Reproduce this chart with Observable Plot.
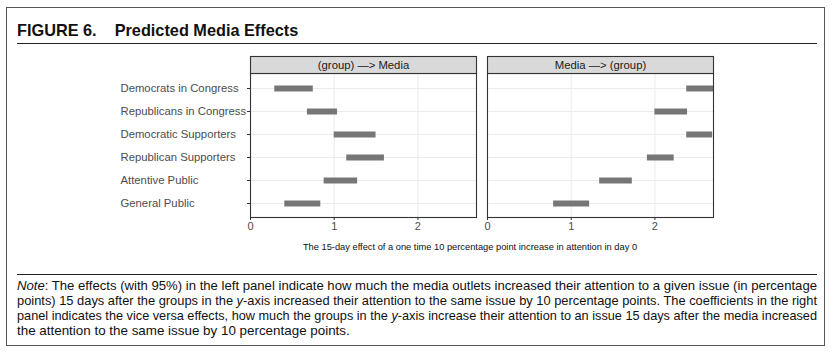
<!DOCTYPE html>
<html>
<head>
<meta charset="utf-8">
<script src="https://cdn.jsdelivr.net/npm/d3@7"></script>
<script src="https://cdn.jsdelivr.net/npm/@observablehq/plot@0.6"></script>
<style>
  html, body { margin: 0; padding: 0; background: #fff; width: 834px; height: 354px; overflow: hidden; }
  body { position: relative; font-family: "Liberation Sans", Arial, sans-serif; }
  #box { position: absolute; left: 6px; top: 7px; width: 819px; height: 339px; border: 1.5px solid #555; box-sizing: border-box; }
  #title { position: absolute; left: 17px; top: 21px; font-size: 16.3px; font-weight: bold; color: #111; white-space: nowrap; }
  #title span.b { margin-left: 18px; }
  .rule { position: absolute; left: 17px; width: 800px; height: 0; border-top: 1.5px solid #222; }
  #chart { position: absolute; left: 0; top: 50px; }
  #xtitle { position: absolute; left: 470px; top: 242px; transform: translateX(-50%); font-size: 9.3px; color: #111; white-space: nowrap; }
  #note { position: absolute; left: 17px; top: 279px; width: 800px; font-size: 13.4px; line-height: 14.9px; color: #111; }
  #note div { white-space: nowrap; }
  #note div span { display: inline-block; transform-origin: left top; }
  #chart svg [aria-label="x-axis tick label"] text, #chart svg [aria-label="x-axis tick label"] { fill: #4d4d4d; }
</style>
</head>
<body>
<div id="box"></div>
<div id="title">FIGURE 6.<span class="b">Predicted Media Effects</span></div>
<div class="rule" style="top:43px"></div>
<div id="chart"></div>
<div id="xtitle">The 15-day effect of a one time 10 percentage point increase in attention in day 0</div>
<div class="rule" style="top:274px"></div>
<div id="note">
  <div class="fit"><span><i>Note</i>: The effects (with 95%) in the left panel indicate how much the media outlets increased their attention to a given issue (in percentage</span></div>
  <div class="fit"><span>points) 15 days after the groups in the <i>y</i>-axis increased their attention to the same issue by 10 percentage points. The coefficients in the right</span></div>
  <div class="fit"><span>panel indicates the vice versa effects, how much the groups in the <i>y</i>-axis increase their attention to an issue 15 days after the media increased</span></div>
  <div class="last"><span>the attention to the same issue by 10 percentage points.</span></div>
</div>
<script>
const categories = ["Democrats in Congress", "Republicans in Congress", "Democratic Supporters", "Republican Supporters", "Attentive Public", "General Public"];
const panels = ["(group) \u2014> Media", "Media \u2014> (group)"];
const groupToMediaLow = [0.29, 0.68, 1.00, 1.15, 0.88, 0.41];
const groupToMediaHigh = [0.75, 1.04, 1.50, 1.60, 1.28, 0.84];
const mediaToGroupLow = [2.38, 2.00, 2.38, 1.91, 1.34, 0.79];
const mediaToGroupHigh = [2.85, 2.39, 2.69, 2.23, 1.73, 1.22];
const xTicks = [0, 1, 2];

const rows = [];
categories.forEach((c, i) => {
  rows.push({panel: panels[0], cat: c, lo: groupToMediaLow[i], hi: groupToMediaHigh[i]});
  rows.push({panel: panels[1], cat: c, lo: mediaToGroupLow[i], hi: mediaToGroupHigh[i]});
});

const panelHeight = 144;
const stripHeight = 17;

const plot = Plot.plot({
  width: 834,
  height: 205,
  marginLeft: 249,
  marginRight: 120,
  marginTop: 23,
  marginBottom: 38,
  style: {fontFamily: "Liberation Sans, Arial, sans-serif", fontSize: "11px", color: "#333", background: "transparent"},
  fx: {domain: panels, paddingInner: 0.046, axis: null, label: null},
  x: {domain: [0, 2.7], ticks: xTicks, tickSize: 3, tickPadding: 2, label: null, tickFormat: d3.format("d")},
  y: {type: "point", domain: categories, padding: 0.6, tickSize: 3, tickFormat: () => "", label: null},
  marks: [
    Plot.ruleY(categories, {y: d => d, stroke: "#ebebeb", strokeWidth: 1}),
    Plot.ruleX(xTicks, {x: d => d, stroke: "#ebebeb", strokeWidth: 1}),
    Plot.ruleY(rows, {fx: "panel", y: "cat", x1: "lo", x2: "hi", stroke: "#767676", strokeWidth: 6, clip: true}),
    Plot.frame({stroke: "#333", strokeWidth: 1.1}),
    Plot.frame({fill: "#d9d9d9", stroke: "#333", strokeWidth: 1.1, insetTop: -stripHeight, insetBottom: panelHeight}),
    Plot.text(panels, {fx: d => d, text: d => d, frameAnchor: "top", lineAnchor: "middle", dy: -stripHeight / 2, fontSize: 11.3, fill: "#1a1a1a"}),
    Plot.text(categories, {fx: () => panels[0], y: d => d, text: d => d, frameAnchor: "left", textAnchor: "start", dx: -130, fontSize: 11.3, fill: "#4d4d4d"})
  ]
});
document.getElementById("chart").appendChild(plot);

// fit justified note lines to the 800px column
document.querySelectorAll("#note div.fit").forEach(div => {
  const span = div.querySelector("span");
  const w = span.getBoundingClientRect().width;
  if (w > 800) {
    span.style.transform = `scaleX(${800 / w})`;
  } else {
    span.style.display = "block";
    span.style.width = "800px";
    span.style.whiteSpace = "normal";
    span.style.textAlign = "justify";
    span.style.textAlignLast = "justify";
  }
});
</script>
</body>
</html>
